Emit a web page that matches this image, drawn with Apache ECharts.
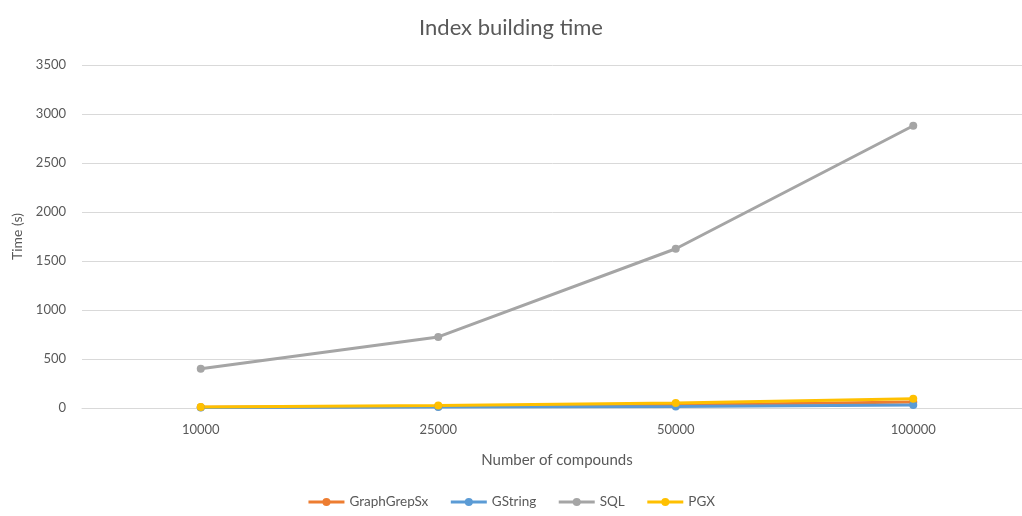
<!DOCTYPE html>
<html>
<head>
<meta charset="utf-8">
<script src="https://cdn.jsdelivr.net/npm/echarts@6/dist/echarts.min.js"></script>
<style>
  html, body { margin: 0; padding: 0; background: #fff; }
  #chart { width: 1022px; height: 516px; }
</style>
</head>
<body>
<div id="chart"></div>
<script>
// Index build time (seconds) per dataset size
const compounds = ['10000', '25000', '50000', '100000'];
const graphGrepSx = [8, 15, 30, 60];
const gString = [5, 10, 15, 30];
const sql = [400, 725, 1625, 2880];
const pgx = [10, 25, 50, 95];
const yTicks = [0, 500, 1000, 1500, 2000, 2500, 3000, 3500];

const font = 'Lato, "Open Sans", sans-serif';
const textColor = '#595959';

function lineSeries(name, data, color) {
  return {
    name: name,
    type: 'line',
    data: data,
    symbol: 'circle',
    symbolSize: 8,
    lineStyle: { width: 3, color: color },
    itemStyle: { color: color },
    z: 2
  };
}

const chart = echarts.init(document.getElementById('chart'));
chart.setOption({
  animation: false,
  backgroundColor: '#ffffff',
  title: {
    text: 'Index building time',
    left: 'center',
    top: 12,
    textStyle: { fontFamily: font, fontSize: 22, fontWeight: 'normal', color: textColor }
  },
  legend: {
    bottom: 2,
    left: 'center',
    itemWidth: 36,
    itemHeight: 10,
    itemGap: 21,
    lineStyle: { width: 3 },
    textStyle: { fontFamily: font, fontSize: 13.5, color: textColor },
    data: ['GraphGrepSx', 'GString', 'SQL', 'PGX']
  },
  grid: { left: 82, top: 65, width: 950, height: 343, outerBoundsMode: 'none', containLabel: false },
  xAxis: {
    type: 'category',
    data: compounds,
    boundaryGap: true,
    name: 'Number of compounds',
    nameLocation: 'middle',
    nameGap: 45,
    nameTextStyle: { fontFamily: font, fontSize: 15, color: textColor },
    axisLine: { show: true, lineStyle: { color: '#d9d9d9' } },
    axisTick: { show: false },
    axisLabel: { fontFamily: font, fontSize: 13, color: textColor, margin: 15 }
  },
  yAxis: {
    type: 'value',
    min: yTicks[0],
    max: yTicks[yTicks.length - 1],
    interval: yTicks[1] - yTicks[0],
    name: 'Time (s)',
    nameLocation: 'middle',
    nameGap: 58,
    nameTextStyle: { fontFamily: font, fontSize: 14, color: textColor },
    axisLine: { show: false },
    axisTick: { show: false },
    splitLine: { lineStyle: { color: '#d9d9d9', width: 1 } },
    axisLabel: {
      fontFamily: font, fontSize: 13, color: textColor, margin: 16,
      formatter: function (v) { return String(v); }
    }
  },
  series: [
    lineSeries('GraphGrepSx', graphGrepSx, '#ed7d31'),
    lineSeries('GString', gString, '#5b9bd5'),
    lineSeries('SQL', sql, '#a5a5a5'),
    lineSeries('PGX', pgx, '#ffc000')
  ]
});
</script>
</body>
</html>
